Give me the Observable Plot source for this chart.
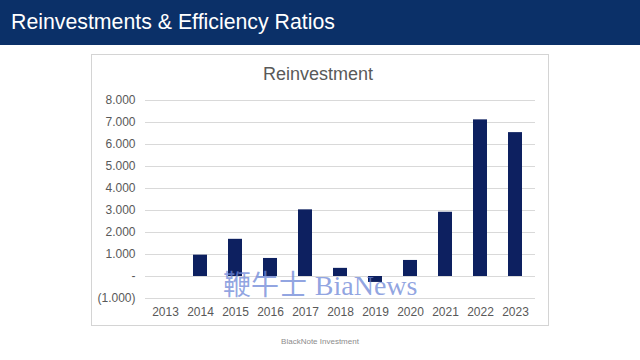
<!DOCTYPE html>
<html>
<head>
<meta charset="utf-8">
<script src="https://cdn.jsdelivr.net/npm/d3@7"></script>
<script src="https://cdn.jsdelivr.net/npm/@observablehq/plot@0.6"></script>
<style>
  html, body { margin: 0; padding: 0; width: 640px; height: 360px; background: #fff; overflow: hidden; font-family: "Liberation Sans", Arial, sans-serif; }
  #header { position: absolute; left: 0; top: 0; width: 640px; height: 45px; background: #0b3068; }
  #header h1 { margin: 0; position: absolute; left: 11px; top: 10px; font-size: 21.3px; font-weight: normal; color: #fff; }
  #box { position: absolute; left: 91px; top: 54px; width: 456px; height: 270px; border: 1px solid #d4d4d4; }
  #ctitle { position: absolute; left: 0; top: 64px; width: 636px; text-align: center; font-size: 18px; color: #595959; }
  #chart { position: absolute; left: 92px; top: 85px; }
  #footer { position: absolute; left: 0; top: 337px; width: 640px; text-align: center; font-size: 8px; color: #8c8c8c; }
  #wm { position: absolute; left: 223px; top: 263px; font-size: 28px; color: rgba(110,135,215,0.75); white-space: nowrap; }
  #wm .cn { font-family: "Noto Sans CJK SC"; }
  #wm .en { font-family: "Liberation Serif", "DejaVu Serif", serif; }
</style>
</head>
<body>
<div id="header"><h1>Reinvestments &amp; Efficiency Ratios</h1></div>
<div id="box"></div>
<div id="ctitle">Reinvestment</div>
<div id="chart"></div>
<div id="wm"><span class="cn">鞭牛士</span> <span class="en">BiaNews</span></div>
<div id="footer">BlackNote Investment</div>
<script>
const years = ["2013","2014","2015","2016","2017","2018","2019","2020","2021","2022","2023"];
const reinvestment = [null, 0.97, 1.69, 0.82, 3.03, 0.37, -0.27, 0.73, 2.92, 7.12, 6.54];
const yTicks = [-1, 0, 1, 2, 3, 4, 5, 6, 7, 8];

const data = years.map((y, i) => ({year: y, value: reinvestment[i]})).filter(d => d.value !== null);

const fmt = v => v === 0 ? "-" : (v < 0 ? "(" + d3.format(".3f")(-v) + ")" : d3.format(".3f")(v));

const chart = Plot.plot({
  width: 456,
  height: 240,
  marginLeft: 53,
  marginRight: 13,
  marginTop: 15,
  marginBottom: 27,
  style: {fontFamily: "Liberation Sans, Arial, sans-serif", fontSize: "12px", color: "#595959", background: "transparent"},
  x: {domain: years, paddingInner: 0.6, paddingOuter: 0.3, label: null, tickSize: 0, tickPadding: 9},
  y: {domain: [-1, 8], ticks: yTicks, tickFormat: fmt, label: null, tickSize: 0, tickPadding: 10},
  marks: [
    Plot.gridY(yTicks, {stroke: "#d9d9d9", strokeOpacity: 1}),
    Plot.barY(data, {x: "year", y: "value", fill: "#0d2060"}),
    Plot.axisX({tickSize: 0, tickPadding: 9, fontSize: 12}),
    Plot.axisY(yTicks, {tickSize: 0, tickPadding: 10, tickFormat: fmt, fontSize: 12})
  ]
});
document.getElementById("chart").appendChild(chart);
</script>
</body>
</html>
